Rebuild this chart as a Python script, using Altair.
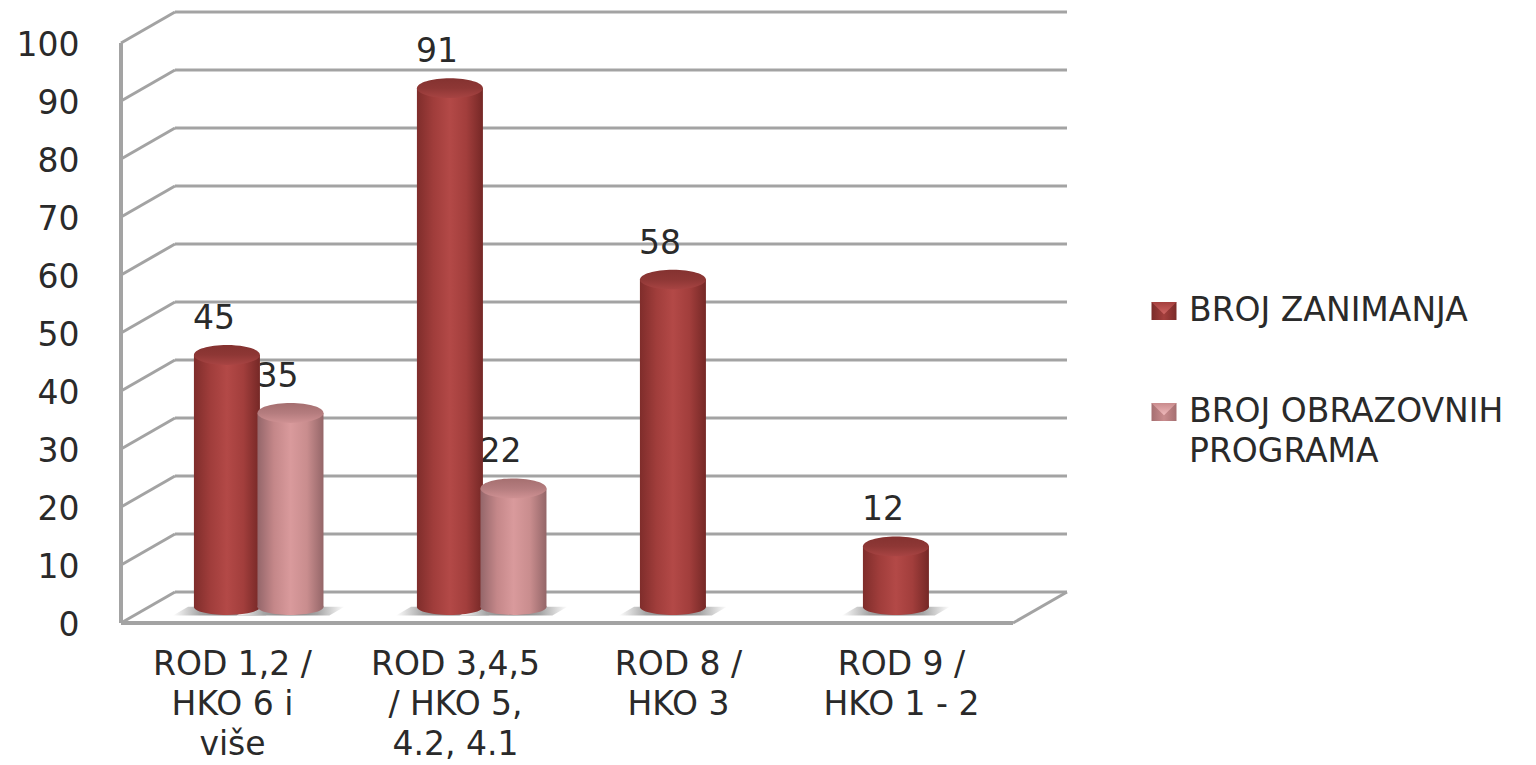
import altair as alt
import pandas as pd

categories = ["ROD 1,2 /\nHKO 6 i\nviše", "ROD 3,4,5\n/ HKO 5,\n4.2, 4.1", "ROD 8 /\nHKO 3", "ROD 9 /\nHKO 1 - 2"]
broj_zanimanja = [45, 91, 58, 12]
broj_programa = [35, 22, None, None]
y_ticks = list(range(0, 101, 10))

FONT = "DejaVu Sans"
FS = 33
TEXT = "#2a2a2a"
GRID = "#a3a3a3"
GW = 3
DX, DY = 54, -31
W, H = 892, 580
HALF = 33 / 223.0

Xs = alt.Scale(domain=[0, 4], range=[0, W], nice=False, zero=False)
Ys = alt.Scale(domain=[0, 100], range=[H, 0], nice=False, zero=False)


def X(f):
    return alt.X(f, type="quantitative", scale=Xs, axis=None, title=None)


def Y(f):
    return alt.Y(f, type="quantitative", scale=Ys, title=None)


def grad(colors, horizontal=True):
    n = len(colors) - 1
    return {
        "gradient": "linear",
        "x1": 0, "y1": 0,
        "x2": 1 if horizontal else 0,
        "y2": 0 if horizontal else 1,
        "stops": [{"offset": i / n, "color": c} for i, c in enumerate(colors)],
    }


ticks = pd.DataFrame({"v": y_ticks, "x0": 0, "x1": 4})
floor = pd.DataFrame({"v": [0], "t": [100], "x0": [0], "x1": [4]})

back = alt.Chart(ticks).mark_rule(color=GRID, strokeWidth=GW, xOffset=DX, x2Offset=DX, yOffset=DY).encode(
    x=X("x0"), x2="x1",
    y=alt.Y("v:Q", scale=Ys, title=None, axis=alt.Axis(
        values=y_ticks, domain=False, ticks=False, grid=False, labelPadding=42, labelOffset=2,
        labelFont=FONT, labelFontSize=FS, labelColor=TEXT, format="d")),
)
slant = alt.Chart(ticks).mark_rule(color=GRID, strokeWidth=GW, x2Offset=DX, y2Offset=DY).encode(
    x=X("x0"), x2="x0", y=Y("v"), y2="v")
wall = alt.Chart(floor).mark_rule(color=GRID, strokeWidth=GW + 1).encode(x=X("x0"), y=Y("v"), y2="t")
front = alt.Chart(floor).mark_rule(color=GRID, strokeWidth=GW + 1).encode(x=X("x0"), x2="x1", y=Y("v"))
right = alt.Chart(floor).mark_rule(color=GRID, strokeWidth=GW, x2Offset=DX, y2Offset=DY).encode(
    x=X("x1"), x2="x1", y=Y("v"), y2="v")

rows = []
for i, (a, b) in enumerate(zip(broj_zanimanja, broj_programa)):
    rows.append({"s": 1, "c": i + 0.475, "v": a})
    if b is not None:
        rows.append({"s": 2, "c": i + 0.76, "v": b})
df = pd.DataFrame(rows)
df["l"] = df["c"] - HALF
df["r"] = df["c"] + HALF
df["z"] = 0

ELL_TOP = "M-1,0A1,0.3 0 1,0 1,0A1,0.3 0 1,0 -1,0Z"
ELL_BOT = "M-1,0A1,0.24 0 1,0 1,0A1,0.24 0 1,0 -1,0Z"
SHADOW = "M-1,0.1L-0.72,-0.06L1,-0.06L0.72,0.1Z"
SYM = (2 * 33) ** 2

shadow = alt.Chart(df).mark_point(
    filled=True, shape=SHADOW, size=108 ** 2, opacity=1, yOffset=-13, strokeWidth=0,
    fill=grad(["#ffffff", "#a5a5a5", "#7a7a7a", "#a5a5a5", "#ffffff"])
).encode(x=X("c"), y=Y("z"))

labels = alt.Chart(df).mark_text(
    font=FONT, fontSize=FS, color=TEXT, dx=-13, dy=-33, baseline="alphabetic", align="center"
).encode(x=X("c"), y=Y("v"), text=alt.Text("v:Q", format="d"))

cat_df = pd.DataFrame({"c": [i + 0.5 for i in range(4)], "t": categories})
cat_text = alt.Chart(cat_df).mark_text(
    font=FONT, fontSize=FS, color=TEXT, lineBreak="\n", lineHeight=40, baseline="alphabetic", align="center"
).encode(x=X("c"), y=alt.value(632), text="t:N")


def cylinder(s, side, top):
    d = df[df["s"] == s]
    body = alt.Chart(d).mark_bar(fill=grad(side), yOffset=-7, y2Offset=-16, stroke=None).encode(
        x=X("l"), x2="r", y=Y("v"), y2="z")
    base = alt.Chart(d).mark_point(
        filled=True, shape=ELL_BOT, size=SYM, opacity=1, yOffset=-16, strokeWidth=0, fill=grad(side)
    ).encode(x=X("c"), y=Y("z"))
    cap = alt.Chart(d).mark_point(
        filled=True, shape=ELL_TOP, size=SYM, opacity=1, yOffset=-7, strokeWidth=0, fill=grad(top, False)
    ).encode(x=X("c"), y=Y("v"))
    return [body, base, cap]


RED_SIDE = ["#7f2d2b", "#a03d3b", "#b34947", "#a23e3c", "#752826"]
RED_TOP = ["#843230", "#8e3735", "#a84443"]
PINK_SIDE = ["#94666a", "#c48789", "#d99a9c", "#c98d8e", "#946668"]
PINK_TOP = ["#a56f70", "#b47c7e", "#cf9193"]

# Legend
legend_items = ["BROJ ZANIMANJA", "BROJ OBRAZOVNIH\nPROGRAMA"]
leg_df = pd.DataFrame({"t": legend_items, "k": [0, 1]})
BOX = "M-1,-0.72L1,-0.72L1,0.72L-1,0.72Z"
TRI = "M-1,-0.72L1,-0.72L0,0.25Z"
LEG = []
for k, y, c1, c2, c3 in [(0, 268, "#7a2b29", "#a43f3d", "#cf6462"), (1, 369, "#a56f71", "#c98b8d", "#efb9bb")]:
    one = leg_df[leg_df["k"] == k]
    LEG.append(alt.Chart(one).mark_point(filled=True, shape=BOX, size=625, opacity=1, strokeWidth=0,
                                         fill=grad([c1, c2, c1], True)).encode(x=alt.value(1043), y=alt.value(y)))
    LEG.append(alt.Chart(one).mark_point(filled=True, shape=TRI, size=625, opacity=1, strokeWidth=0,
                                         fill=grad([c2, c3], False)).encode(x=alt.value(1043), y=alt.value(y)))
    LEG.append(alt.Chart(one).mark_text(font=FONT, fontSize=FS, color=TEXT, align="left", baseline="alphabetic",
                                        lineBreak="\n", lineHeight=40).encode(
        x=alt.value(1068), y=alt.value(y + 10), text="t:N"))

layers = [back, slant, wall, front, right, shadow, labels, cat_text]
layers += cylinder(1, RED_SIDE, RED_TOP) + cylinder(2, PINK_SIDE, PINK_TOP) + LEG

chart = alt.layer(*layers).properties(
    width=W, height=H,
    autosize=alt.AutoSizeParams(type="none"),
    padding={"left": 113, "top": 35, "right": 515, "bottom": 141},
    background="white",
).configure_view(stroke=None)

chart.save("out.html", embed_options={"renderer": "svg", "actions": False})
